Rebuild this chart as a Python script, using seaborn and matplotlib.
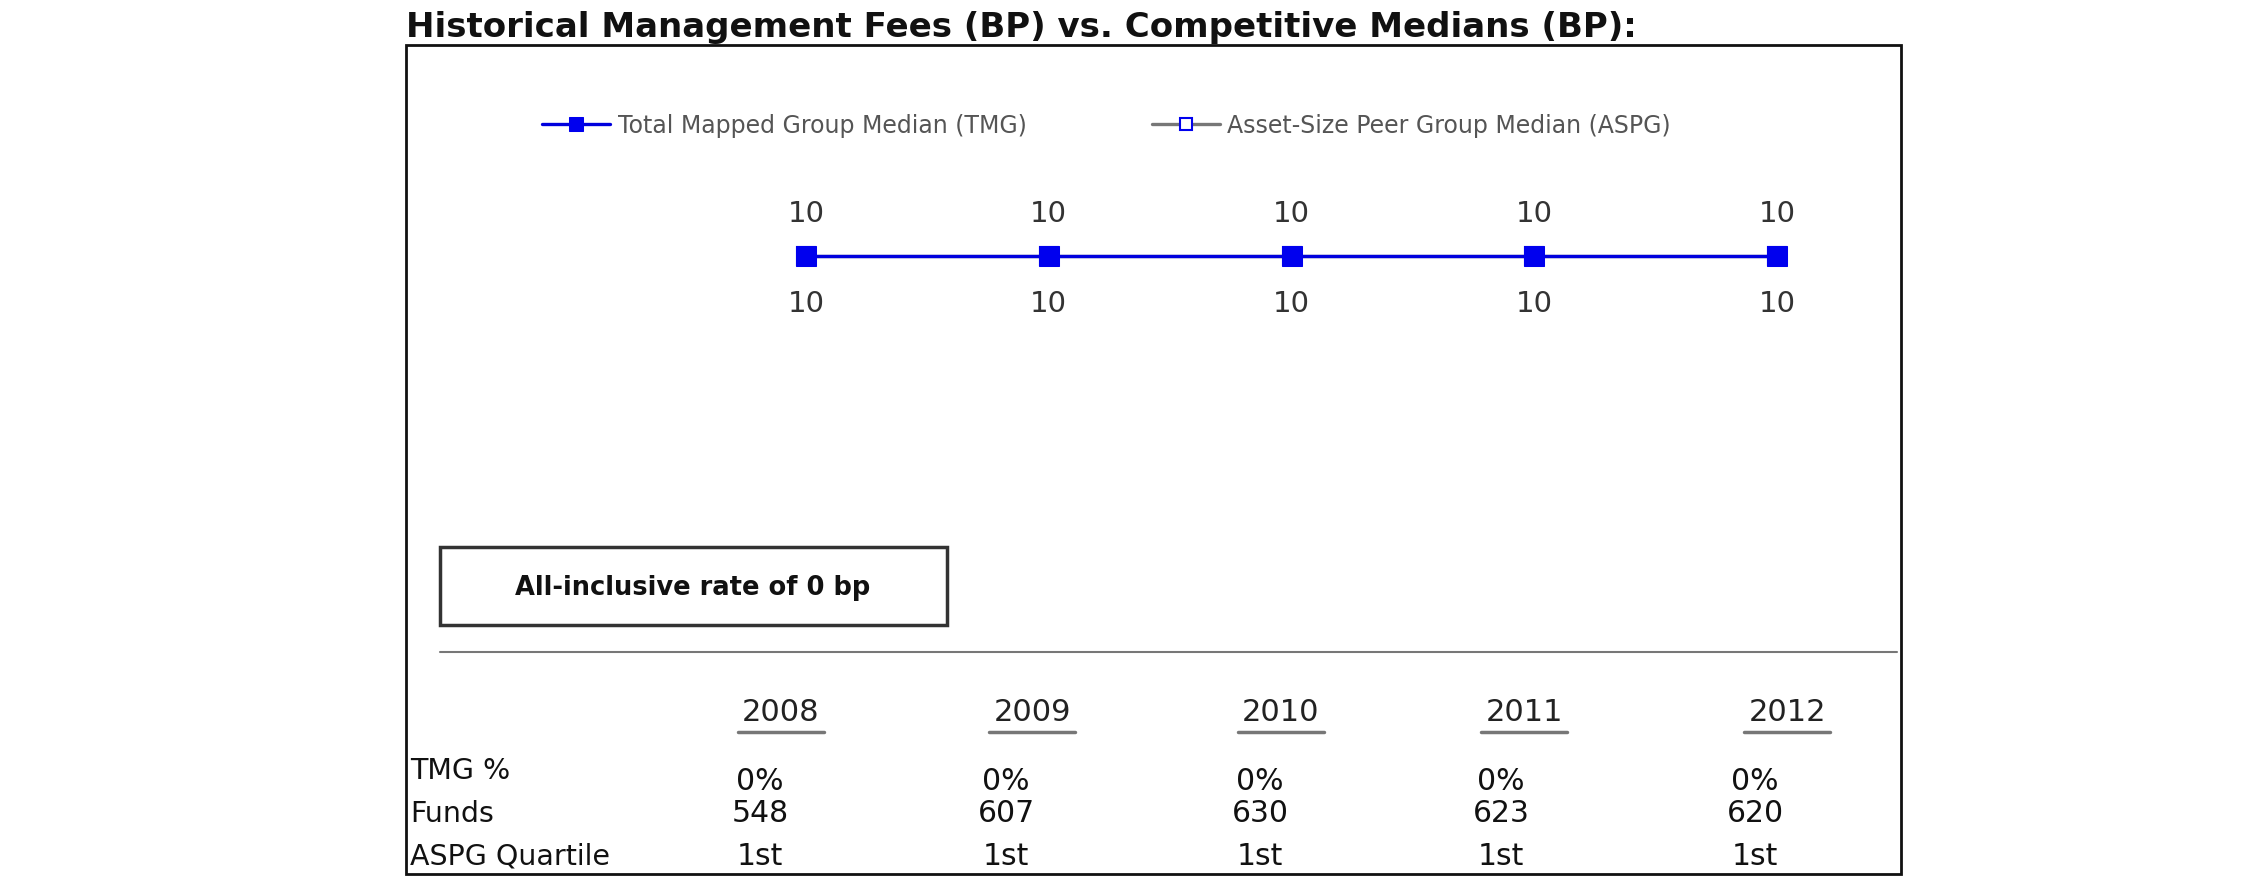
import numpy as np
import pandas as pd
import matplotlib.pyplot as plt
import seaborn as sns
from matplotlib.patches import Rectangle
from matplotlib.lines import Line2D

# chart data
years = ['2008', '2009', '2010', '2011', '2012']
tmg_median = [10, 10, 10, 10, 10]
aspg_median = [10, 10, 10, 10, 10]
tmg_pct = ['0%', '0%', '0%', '0%', '0%']
funds = [548, 607, 630, 623, 620]
aspg_quartile = ['1st', '1st', '1st', '1st', '1st']
all_inclusive_bp = 0
row_labels = ['TMG %', 'Funds', 'ASPG Quartile']

sns.set_theme(style='white')
plt.rcParams['font.family'] = ['DejaVu Sans']

W, H = 2250, 895
fig = plt.figure(figsize=(W / 100, H / 100), dpi=100)


def fx(px):
    return px / W


def fy(py):
    return 1 - py / H


# title
fig.text(fx(406), fy(27), 'Historical Management Fees (BP) vs. Competitive Medians (BP):',
         fontsize=24.5, fontweight='bold', color='#111111', ha='left', va='center')

# outer frame
fig.add_artist(Rectangle((fx(406), fy(875)), fx(1901) - fx(406), fy(46) - fy(875),
                         transform=fig.transFigure, fill=False, edgecolor='#111111', lw=2))

# line chart axes: x positions 0..4 span 806..1777 px
ax = fig.add_axes([fx(806), fy(354), fx(1777) - fx(806), fy(160) - fy(354)])
df = pd.DataFrame({'Year': years, 'TMG': tmg_median, 'ASPG': aspg_median})

sns.lineplot(data=df, x='Year', y='ASPG', ax=ax, color='#777777', lw=2.4, marker='s',
             markersize=13, markerfacecolor='white', markeredgecolor='#0000ee',
             markeredgewidth=1.5, label='Asset-Size Peer Group Median (ASPG)', zorder=2,
             clip_on=False)
sns.lineplot(data=df, x='Year', y='TMG', ax=ax, color='#0000dd', lw=2.4, marker='s',
             markersize=14.5, markerfacecolor='#0000ee', markeredgecolor='#0000ee',
             label='Total Mapped Group Median (TMG)', zorder=3, clip_on=False)

ax.set_xlim(0, len(years) - 1)
ax.set_ylim(5, 15)
ax.axis('off')

for i, (a, b) in enumerate(zip(tmg_median, aspg_median)):
    ax.annotate(str(a), (i, a), xytext=(0, 31), textcoords='offset points',
                ha='center', va='center', fontsize=21, color='#333333')
    ax.annotate(str(b), (i, b), xytext=(0, -34), textcoords='offset points',
                ha='center', va='center', fontsize=21, color='#333333')

handles, labels = ax.get_legend_handles_labels()
ax.get_legend().remove()
fig.legend(handles[::-1], labels[::-1], loc='center left',
           bbox_to_anchor=(fx(542), fy(126)), ncol=2, frameon=False, markerscale=0.7,
           fontsize=17, handlelength=2.9, handletextpad=0.3, columnspacing=5.3,
           borderpad=0, borderaxespad=0, labelcolor='#555555')

# all-inclusive rate box
fig.add_artist(Rectangle((fx(440), fy(626)), fx(947) - fx(440), fy(548) - fy(626),
                         transform=fig.transFigure, fill=False, edgecolor='#333333', lw=2.5))
fig.text(fx(693), fy(588), f'All-inclusive rate of {all_inclusive_bp} bp',
         fontsize=18.5, fontweight='bold', color='#111111', ha='center', va='center')

# separator
fig.add_artist(Line2D([fx(440), fx(1897)], [fy(653), fy(653)],
                      transform=fig.transFigure, color='#777777', lw=1.5))

# table
year_cols = [781, 1032, 1281, 1524, 1787]
val_cols = [760, 1006, 1260, 1501, 1755]
for yr, xc in zip(years, year_cols):
    fig.text(fx(xc), fy(713), yr, fontsize=22, color='#222222', ha='center', va='center')
    fig.add_artist(Line2D([fx(xc - 43), fx(xc + 43)], [fy(733), fy(733)],
                          transform=fig.transFigure, color='#777777', lw=2.5))

row_y = [771, 814, 857]
for lab, yy in zip(row_labels, row_y):
    fig.text(fx(410), fy(yy), lab, fontsize=20.5, color='#111111', ha='left', va='center')

for vals, yy in zip([tmg_pct, funds, aspg_quartile], [782, 814, 857]):
    for v, xc in zip(vals, val_cols):
        fig.text(fx(xc), fy(yy), str(v), fontsize=21.5, color='#111111', ha='center', va='center')

fig.savefig('out.png', dpi=100, facecolor='white')
